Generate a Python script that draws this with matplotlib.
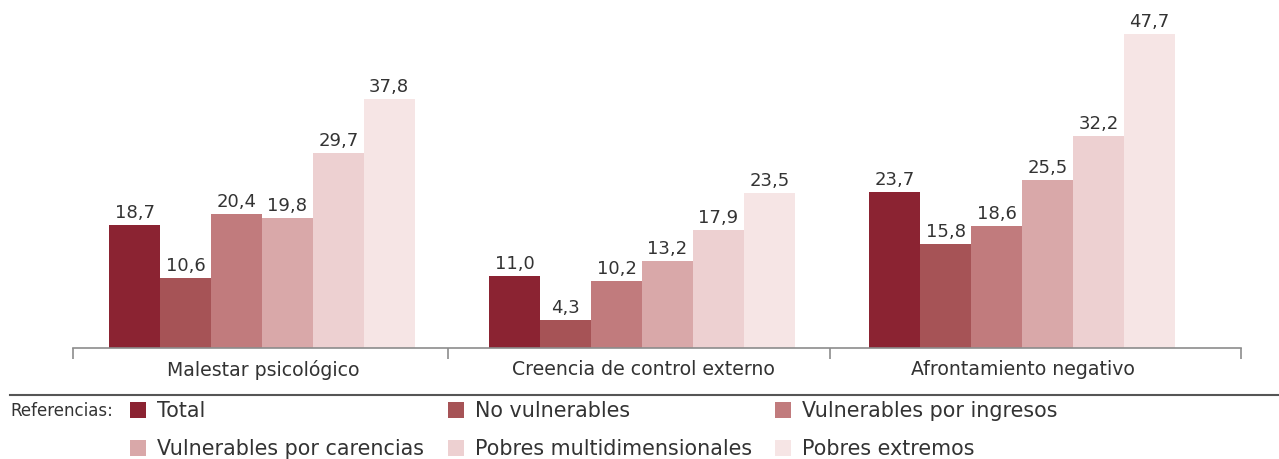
import matplotlib.pyplot as plt
from matplotlib.lines import Line2D
from matplotlib.patches import Rectangle
import numpy as np

plt.rcParams['font.family'] = ['DejaVu Sans']

categorias = ['Malestar psicológico', 'Creencia de control externo', 'Afrontamiento negativo']
series = ['Total', 'No vulnerables', 'Vulnerables por ingresos',
          'Vulnerables por carencias', 'Pobres multidimensionales', 'Pobres extremos']
total = [18.7, 11.0, 23.7]
no_vulnerables = [10.6, 4.3, 15.8]
vuln_ingresos = [20.4, 10.2, 18.6]
vuln_carencias = [19.8, 13.2, 25.5]
pobres_multi = [29.7, 17.9, 32.2]
pobres_extremos = [37.8, 23.5, 47.7]
valores = [total, no_vulnerables, vuln_ingresos, vuln_carencias, pobres_multi, pobres_extremos]
colores = ['#8B2332', '#A65356', '#C17B7D', '#D9A8A9', '#EDD0D1', '#F6E5E5']

txt = '#333333'
W, H = 1279, 460
fig = plt.figure(figsize=(W / 100, H / 100), dpi=100)
ax = fig.add_axes([73 / W, 111 / H, (1241 - 73) / W, 329 / H])

x = np.arange(len(categorias))
bw = 0.134
for i, (nombre, vals) in enumerate(zip(series, valores)):
    pos = x + (i - 2.5) * bw - 0.003
    ax.bar(pos, vals, width=bw, color=colores[i], label=nombre, linewidth=0)
    for px, v in zip(pos, vals):
        ax.text(px, v + 0.6, f'{v:.1f}'.replace('.', ','), ha='center', va='bottom',
                fontsize=13, color=txt)

ax.set_xlim(-0.5, 2.573)
ax.set_ylim(0, 50)
for s in ['top', 'right', 'left']:
    ax.spines[s].set_visible(False)
ax.spines['bottom'].set_color('#8c8c8c')
ax.spines['bottom'].set_linewidth(1.2)
ax.set_yticks([])
ax.set_xticks([-0.5, 0.487, 1.492, 2.573])
ax.set_xticklabels([])
ax.tick_params(axis='x', length=8, color='#8c8c8c', width=1.2)
for xi, c in zip(x, categorias):
    ax.text(xi, -1.7, c, ha='center', va='top', fontsize=13.6, color=txt)

# separador y leyenda
fig.add_artist(Line2D([10 / W, 1.0], [1 - 396 / H, 1 - 396 / H], color='#555555', lw=1.5))
fig.text(10 / W, 1 - 411 / H, 'Referencias:', ha='left', va='center', fontsize=12,
         color=txt, family=['Liberation Sans Narrow', 'DejaVu Sans'])

col_x = [130, 448, 775]
fila_y = [411, 449]
for i, (nombre, c) in enumerate(zip(series, colores)):
    cx = col_x[i % 3]
    cy = fila_y[i // 3]
    fig.add_artist(Rectangle((cx / W, 1 - (cy + 8) / H), 16 / W, 16 / H,
                             transform=fig.transFigure, color=c, lw=0))
    fig.text((cx + 27) / W, 1 - cy / H, nombre, ha='left', va='center', fontsize=14.9, color=txt)

fig.savefig('out.png', dpi=100)
